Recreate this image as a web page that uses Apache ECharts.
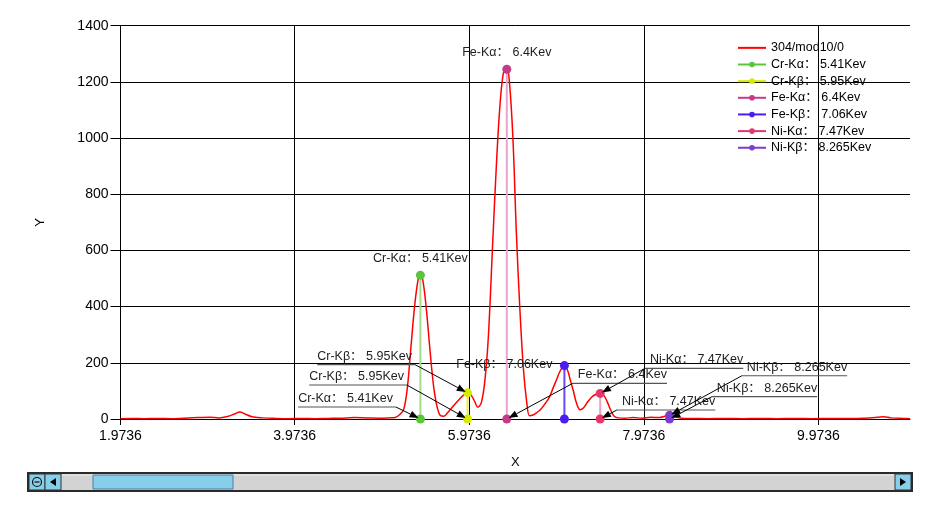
<!DOCTYPE html>
<html><head><meta charset="utf-8">
<script src="https://cdn.jsdelivr.net/npm/echarts@6/dist/echarts.min.js"></script>
<style>html,body{margin:0;padding:0;background:#fff}#c{width:940px;height:507px}</style>
</head><body><div id="c"></div>
<script>
const FONT = '"Liberation Sans", "Noto Sans CJK SC", sans-serif';

// ---- data ----
const spectrumName = '304/mod10/0';
const energy = [1.9736,2.10,2.25,2.40,2.55,2.70,2.85,3.00,3.10,3.20,3.28,3.34,3.40,3.48,3.60,3.75,3.90,4.05,4.20,4.35,4.50,4.65,4.80,4.95,5.05,5.12,5.18,5.22,5.26,5.30,5.34,5.38,5.41,5.44,5.48,5.52,5.56,5.60,5.64,5.68,5.72,5.77,5.82,5.87,5.91,5.95,5.98,6.02,6.07,6.11,6.15,6.19,6.24,6.28,6.32,6.36,6.40,6.43,6.47,6.51,6.55,6.59,6.63,6.66,6.70,6.74,6.79,6.84,6.89,6.93,6.97,7.01,7.06,7.10,7.13,7.16,7.20,7.24,7.28,7.33,7.38,7.43,7.47,7.51,7.55,7.59,7.63,7.68,7.75,7.85,7.95,8.05,8.15,8.21,8.265,8.32,8.40,8.55,8.70,8.90,9.10,9.30,9.50,9.70,9.90,10.10,10.30,10.50,10.65,10.72,10.80,10.95,11.02];
const counts = [1,2,1,2,1,3,5,6,4,9,18,25,18,8,4,2,1,2,1,2,3,5,4,3,4,5,18,35,110,250,390,490,515,490,385,245,120,45,12,10,22,40,58,75,87,95,90,70,42,60,140,300,638,900,1110,1230,1255,1200,1000,660,390,180,55,12,14,22,35,55,79,110,140,170,191,170,135,103,55,33,40,62,80,89,92,85,62,32,10,4,3,5,3,6,5,10,15,9,3,2,1,2,1,2,1,2,1,2,2,3,6,8,4,2,1];

const lineNames = ['Cr-Kα： 5.41Kev','Cr-Kβ： 5.95Kev','Fe-Kα： 6.4Kev','Fe-Kβ： 7.06Kev','Ni-Kα： 7.47Kev','Ni-Kβ： 8.265Kev'];
const lineEnergy = [5.41, 5.95, 6.4, 7.06, 7.47, 8.265];
const lineHeight = [512, 93, 1245, 190, 91, 13];

const xMin = 1.9736, xMax = 11.02, xStep = 2;
const yMin = 0, yMax = 1400, yStep = 200;

// ---- styles ----
const dotColors  = ['#5cc43c','#d8ea00','#c43c88','#4a1ef0','#e4386c','#7c3cd0'];
const stemColors = ['#a4dc8c','#e2f040','#e8a4cc','#6c48f4','#f0a0bc','#9c70dc'];

// annotation layout (pixel offsets relative to the annotated point)
const annLayout = [
  {i:0, top:true,  kind:'top'},
  {i:0, top:false, dx:-24.5, dy:-12,  side:'left'},
  {i:1, top:true,  dx:-52.6, dy:-28.3, side:'left'},
  {i:1, top:false, dx:-60.6, dy:-34,  side:'left'},
  {i:2, top:true,  kind:'top'},
  {i:2, top:false, dx:66,   dy:-35.7, side:'right'},
  {i:3, top:true,  kind:'left'},
  {i:4, top:true,  dx:44.7, dy:-25,   side:'right'},
  {i:4, top:false, dx:16.7, dy:-9,    side:'right'},
  {i:5, top:true,  dx:72.3, dy:-39.6, side:'right'},
  {i:5, top:false, dx:42.3, dy:-22.3, side:'right'}
];

const chart = echarts.init(document.getElementById('c'), null, {renderer:'canvas'});

const series = [{
  name: spectrumName, type:'line', data: energy.map((e,i)=>[e, counts[i]]),
  symbol:'none', smooth:0.35, lineStyle:{color:'#ff0000', width:1.5}, itemStyle:{color:'#ff0000'}, z:2
}];
lineNames.forEach((n,i)=>{
  series.push({
    name:n, type:'line', data:[[lineEnergy[i],0],[lineEnergy[i],lineHeight[i]]],
    symbol:'circle', symbolSize:9, showSymbol:true,
    lineStyle:{color:stemColors[i], width:2}, itemStyle:{color:dotColors[i]}, z:3
  });
});

const legendData = [{name:spectrumName, itemStyle:{opacity:0}, lineStyle:{color:'#ff0000', width:2}}]
  .concat(lineNames.map((n,i)=>({name:n, lineStyle:{color:dotColors[i], width:2}})));

const option = {
  animation:false,
  backgroundColor:'#fff',
  textStyle:{fontFamily:FONT},
  grid:{left:120.5, right:30, top:25.7, bottom:88},
  legend:{
    orient:'vertical', left:737, top:41.6, padding:0, itemWidth:28, itemHeight:7, itemGap:4.15,
    textStyle:{fontSize:12.5, color:'#000', fontFamily:FONT},
    data:legendData
  },
  xAxis:{
    type:'value', min:xMin, max:xMax, interval:xStep,
    name:'X', nameLocation:'middle', nameGap:37, nameTextStyle:{color:'#000', fontSize:13, fontFamily:FONT},
    axisLine:{show:true, onZero:false, lineStyle:{color:'#000', width:1}},
    axisTick:{show:true, length:6, lineStyle:{color:'#000'}},
    axisLabel:{color:'#000', fontSize:14, margin:10, fontFamily:FONT, showMaxLabel:false,
      formatter:v=>Math.abs(v-xMax)<1e-6?'':(xMin+Math.round((v-xMin)/xStep)*xStep).toFixed(4)},
    splitLine:{show:true, showMaxLine:false, lineStyle:{color:'#000', width:1}}
  },
  yAxis:{
    type:'value', min:yMin, max:yMax, interval:yStep,
    name:'Y', nameLocation:'middle', nameGap:74, nameTextStyle:{color:'#000', fontSize:13, fontFamily:FONT},
    axisLine:{show:true, lineStyle:{color:'#000', width:1}},
    axisTick:{show:true, length:10, lineStyle:{color:'#000'}},
    axisLabel:{color:'#000', fontSize:14, margin:12, fontFamily:FONT, formatter:v=>String(v)},
    splitLine:{show:true, lineStyle:{color:'#000', width:1}}
  },
  series
};
chart.setOption(option);

// ---- annotations ----
const mctx = document.createElement('canvas').getContext('2d');
const AFONT = '12.5px ' + FONT;
mctx.font = AFONT;
const g = [];
function txt(t, x, y, align){
  g.push({type:'text', z:100, silent:true, style:{text:t, x:x, y:y, font:AFONT, fill:'#1e1e1e',
    align:align, verticalAlign:'middle', textAlign:align, textVerticalAlign:'middle'}});
}
annLayout.forEach(a=>{
  const t = lineNames[a.i];
  const w = mctx.measureText(t).width;
  const p = chart.convertToPixel({gridIndex:0}, [lineEnergy[a.i], a.top ? lineHeight[a.i] : 0]);
  if (a.kind === 'top') { txt(t, p[0], p[1]-16.5, 'center'); return; }
  if (a.kind === 'left') { txt(t, p[0]-12, p[1]-1, 'right'); return; }
  const ax = p[0]+a.dx, ay = p[1]+a.dy;
  let ux1, ux2, tx;
  if (a.side === 'left') { ux1 = ax - w - 3; ux2 = ax; tx = ux1; }
  else { ux1 = ax; ux2 = ax + w + 5; tx = ax + 5; }
  g.push({type:'line', z:99, silent:true, shape:{x1:ux1, y1:ay, x2:ux2, y2:ay}, style:{stroke:'#555', lineWidth:1.2}});
  txt(t, tx, ay-8.5, 'left');
  const vx = p[0]-ax, vy = p[1]-ay, L = Math.hypot(vx,vy), ux = vx/L, uy = vy/L;
  const tipx = p[0]-ux*2, tipy = p[1]-uy*2;
  const bx = tipx-ux*9, by = tipy-uy*9, nx = -uy, ny = ux;
  g.push({type:'line', z:101, silent:true, shape:{x1:ax, y1:ay, x2:bx, y2:by}, style:{stroke:'#000', lineWidth:1}});
  g.push({type:'polygon', z:101, silent:true, shape:{points:[[tipx,tipy],[bx+nx*3.5,by+ny*3.5],[bx-nx*3.5,by-ny*3.5]]}, style:{fill:'#000'}});
});

// ---- scrollbar (chrome) ----
g.push({type:'rect', z:90, silent:true, shape:{x:28, y:473, width:884, height:18}, style:{fill:'#d3d3d3', stroke:'#2a2a2a', lineWidth:2}});
g.push({type:'line', z:91, silent:true, shape:{x1:62, y1:475, x2:894, y2:475}, style:{stroke:'#ececec', lineWidth:1}});
g.push({type:'rect', z:91, silent:true, shape:{x:29, y:474, width:16, height:16}, style:{fill:'#87ceeb', stroke:'#333', lineWidth:1}});
g.push({type:'circle', z:92, silent:true, shape:{cx:37, cy:482, r:4.5}, style:{fill:'none', stroke:'#111', lineWidth:1.2}});
g.push({type:'line', z:92, silent:true, shape:{x1:34.5, y1:482, x2:39.5, y2:482}, style:{stroke:'#111', lineWidth:1.2}});
g.push({type:'rect', z:91, silent:true, shape:{x:45, y:474, width:16, height:16}, style:{fill:'#87ceeb', stroke:'#333', lineWidth:1}});
g.push({type:'polygon', z:92, silent:true, shape:{points:[[50,482],[56,478],[56,486]]}, style:{fill:'#000'}});
g.push({type:'rect', z:91, silent:true, shape:{x:93, y:475, width:140, height:14}, style:{fill:'#87ceeb', stroke:'#4d7f9c', lineWidth:1}});
g.push({type:'rect', z:91, silent:true, shape:{x:895, y:474, width:16, height:16}, style:{fill:'#87ceeb', stroke:'#333', lineWidth:1}});
g.push({type:'polygon', z:92, silent:true, shape:{points:[[906,482],[900,478],[900,486]]}, style:{fill:'#000'}});

chart.setOption({graphic:g});
</script></body></html>
